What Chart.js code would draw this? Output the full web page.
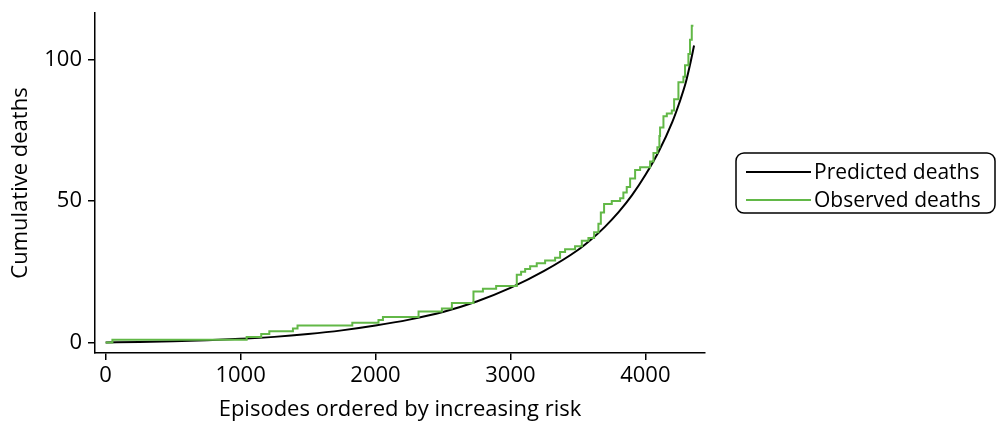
<!DOCTYPE html>
<html>
<head>
<meta charset="utf-8">
<script src="https://cdn.jsdelivr.net/npm/chart.js@4"></script>
<style>
  html, body { margin: 0; padding: 0; background: #fff; }
  #wrap { width: 997px; height: 423px; }
</style>
</head>
<body>
<div id="wrap"><canvas id="riskChart" width="997" height="423"></canvas></div>
<script>
// predicted cumulative deaths (smooth curve)
const predX = [0, 250, 500, 750, 1000, 1250, 1500, 1750, 2000, 2250, 2500, 2750, 3000, 3250, 3500,
  3600, 3700, 3800, 3900, 4000, 4100, 4200, 4250, 4300, 4330, 4361];
const predY = [0, 0.2, 0.45, 0.8, 1.3, 2.0, 3.0, 4.3, 6.0, 8.1, 10.8, 14.5, 19.3, 25.3, 32.7,
  36.5, 40.9, 46, 52, 59.2, 67.6, 78, 84.5, 92, 98, 105];

// observed deaths: episode index where the count steps up, and the new count
const obsX = [0, 50, 1045, 1153, 1213, 1388, 1422, 1828, 2022, 2055, 2319, 2492, 2566, 2726, 2796, 2894,
  3047, 3079, 3109, 3146, 3195, 3257, 3331, 3368, 3405, 3479, 3529, 3578, 3620, 3652, 3670, 3694,
  3751, 3813, 3837, 3862, 3887, 3924, 3961, 4035, 4060, 4089, 4104, 4109, 4134, 4159, 4196, 4213,
  4245, 4282, 4294, 4319, 4331, 4344, 4356];
const obsY = [0, 1, 2, 3, 4, 5, 6, 7, 8, 9, 11, 12, 14, 18, 19, 20,
  24, 25, 26, 27, 28, 29, 30, 32, 33, 34, 36, 37, 39, 42, 46, 49,
  50, 51, 53, 55, 58, 61, 62, 64, 67, 69, 73, 76, 80, 81, 82, 86,
  92, 94, 98, 102, 107, 112, 112];

const xTicks = [0, 1000, 2000, 3000, 4000];
const yTicks = [0, 50, 100];
const seriesNames = ["Predicted deaths", "Observed deaths"];

const FONT = "'Open Sans', 'DejaVu Sans', sans-serif";
const GREEN = "#62b847";

// boxed legend on the right, drawn by hand
const boxLegend = {
  id: "boxLegend",
  afterDraw(chart) {
    const c = chart.ctx;
    const x = 736, y = 153, w = 259, h = 60;
    c.save();
    c.strokeStyle = "#000";
    c.lineWidth = 1.5;
    c.beginPath();
    c.roundRect(x, y, w, h, 8);
    c.stroke();
    c.font = "21px " + FONT;
    c.textBaseline = "middle";
    c.fillStyle = "#000";
    const rows = [172, 200];
    chart.data.datasets.forEach((ds, i) => {
      c.strokeStyle = ds.borderColor;
      c.lineWidth = 2;
      c.beginPath();
      c.moveTo(746, rows[i]);
      c.lineTo(811, rows[i]);
      c.stroke();
      c.fillText(ds.label, 814, rows[i] + 1);
    });
    c.restore();
  }
};

new Chart(document.getElementById("riskChart"), {
  type: "line",
  data: {
    datasets: [
      {
        label: seriesNames[0],
        data: predX.map((x, i) => ({ x: x, y: predY[i] })),
        borderColor: "#000",
        borderWidth: 2,
        pointRadius: 0,
        cubicInterpolationMode: "monotone",
        order: 2,
      },
      {
        label: seriesNames[1],
        data: obsX.map((x, i) => ({ x: x, y: obsY[i] })),
        borderColor: GREEN,
        borderWidth: 2,
        pointRadius: 0,
        stepped: "before",
        order: 1,
      },
    ],
  },
  options: {
    responsive: false,
    animation: false,
    layout: { padding: { top: 13, right: 292, left: 0, bottom: 0 } },
    plugins: {
      legend: { display: false },
      tooltip: { enabled: false },
    },
    scales: {
      x: {
        type: "linear",
        min: -79,
        max: 4442,
        afterBuildTicks: (s) => { s.ticks = xTicks.map(v => ({ value: v })); },
        afterFit: (s) => { s.height = 70; },
        grid: { drawOnChartArea: false, drawTicks: true, tickLength: 7, color: "#000", lineWidth: 1.5 },
        border: { display: true, color: "#000", width: 1.5 },
        ticks: { color: "#000", font: { family: FONT, size: 22 }, padding: 3, maxRotation: 0,
                 callback: (v) => String(v) },
        title: { display: true, text: "Episodes ordered by increasing risk", color: "#000",
                 font: { family: FONT, size: 22 }, padding: { top: 0, bottom: 0 } },
      },
      y: {
        type: "linear",
        min: -3.7,
        max: 116.5,
        afterBuildTicks: (s) => { s.ticks = yTicks.map(v => ({ value: v })); },
        afterFit: (s) => { s.width = 95; s.paddingTop = 0; s.paddingBottom = 0; },
        grid: { drawOnChartArea: false, drawTicks: true, tickLength: 7, color: "#000", lineWidth: 1.5 },
        border: { display: true, color: "#000", width: 1.5 },
        ticks: { color: "#000", font: { family: FONT, size: 22 }, padding: 6,
                 callback: (v) => String(v) },
        title: { display: true, text: "Cumulative deaths", color: "#000",
                 font: { family: FONT, size: 22 }, padding: { top: 8, bottom: 0 } },
      },
    },
  },
  plugins: [boxLegend],
});
</script>
</body>
</html>
